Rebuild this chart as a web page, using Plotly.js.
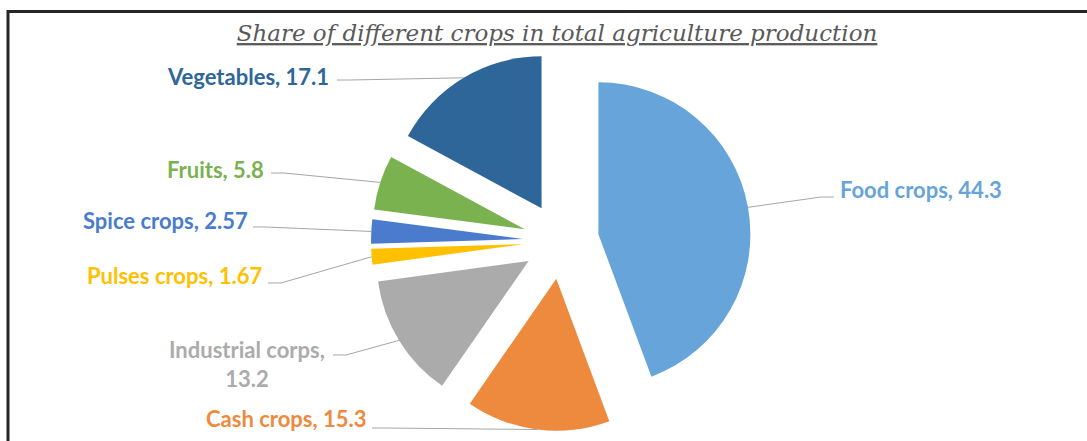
<!DOCTYPE html>
<html><head><meta charset="utf-8">
<script src="https://cdn.plot.ly/plotly-3.0.1.min.js"></script>
<style>html,body{margin:0;padding:0;background:#fff;}#chart{width:1087px;height:441px;}</style>
</head><body><div id="chart"></div>
<script>
// ---- data ----
const categories = ["Food crops", "Cash crops", "Industrial corps", "Pulses crops", "Spice crops", "Fruits", "Vegetables"];
const shares = [44.3, 15.3, 13.2, 1.67, 2.57, 5.8, 17.1];
const valueLabels = ["44.3", "15.3", "13.2", "1.67", "2.57", "5.8", "17.1"];
const sliceColors = ["#66A4D9", "#EE8A3D", "#ABABAB", "#FFC000", "#4A7BCC", "#79B24F", "#2E6699"];
const chartTitle = "Share of different crops in total agriculture production";

// ---- layout (pixels) ----
const W = 1087, H = 441;
const PULL = 0.25;
const pieCenter = [561, 241];
const pieOuter = 190;           // radius * (1 + pull)
// text centre (tx,ty), leader start (lx,ly), short horizontal run direction (hd)
const labelLayout = [
  {tx: 921, ty: 189, lx: 834, ly: 197, hd: -1, wrap: false},
  {tx: 286, ty: 418, lx: 372, ly: 428, hd: 1, wrap: false},
  {tx: 247, ty: 364, lx: 333, ly: 355, hd: 1, wrap: true},
  {tx: 174, ty: 275, lx: 268, ly: 283, hd: 1, wrap: false},
  {tx: 165, ty: 221, lx: 253, ly: 227, hd: 1, wrap: false},
  {tx: 215, ty: 169, lx: 271, ly: 173, hd: 1, wrap: false},
  {tx: 248, ty: 76, lx: 337, ly: 80, hd: 1, wrap: false}
];

const px = x => x / W;
const py = y => 1 - y / H;

const total = shares.reduce((a, b) => a + b, 0);
let cum = 0;
const annotations = [];
const shapes = [];
shares.forEach((v, i) => {
  const mid = (cum + v / 2) / total * 2 * Math.PI;
  cum += v;
  const ex = pieCenter[0] + pieOuter * Math.sin(mid);
  const ey = pieCenter[1] - pieOuter * Math.cos(mid);
  const L = labelLayout[i];
  const sep = L.wrap ? ",<br>" : ", ";
  annotations.push({
    xref: 'paper', yref: 'paper', x: px(L.tx), y: py(L.ty),
    xanchor: 'center', yanchor: 'middle', align: 'center', showarrow: false,
    text: categories[i] + sep + valueLabels[i],
    font: {family: 'Lato', size: 22, weight: 'bold', color: sliceColors[i]}
  });
  const hx = L.lx + L.hd * 13;
  shapes.push({
    type: 'path', xref: 'paper', yref: 'paper',
    path: `M ${px(L.lx)},${py(L.ly)} L ${px(hx)},${py(L.ly)} L ${px(ex)},${py(ey)}`,
    line: {color: '#A6A6A6', width: 1}
  });
});

// frame
shapes.push({
  type: 'rect', xref: 'paper', yref: 'paper',
  x0: px(8), x1: px(1095), y0: py(460), y1: py(11.5),
  line: {color: '#262626', width: 3}
});

const trace = {
  type: 'pie',
  labels: categories,
  values: shares,
  sort: false,
  direction: 'clockwise',
  rotation: 0,
  pull: shares.map(() => PULL),
  marker: {colors: sliceColors, line: {width: 0}},
  textinfo: 'none',
  hoverinfo: 'skip',
  showlegend: false,
  domain: {
    x: [px(pieCenter[0] - pieOuter), px(pieCenter[0] + pieOuter)],
    y: [(H - pieCenter[1] - pieOuter) / H, (H - pieCenter[1] + pieOuter) / H]
  }
};

const layout = {
  width: W, height: H,
  margin: {l: 0, r: 0, t: 0, b: 0},
  paper_bgcolor: '#ffffff',
  showlegend: false,
  title: {
    text: chartTitle,
    font: {family: 'DejaVu Serif', size: 23, color: '#595959', style: 'italic', lineposition: 'under'},
    x: 557 / W, xanchor: 'center', xref: 'container',
    y: 1 - 33 / H, yanchor: 'middle', yref: 'container'
  },
  annotations: annotations,
  shapes: shapes
};

Plotly.newPlot('chart', [trace], layout, {staticPlot: true, displayModeBar: false});
</script>
</body></html>
